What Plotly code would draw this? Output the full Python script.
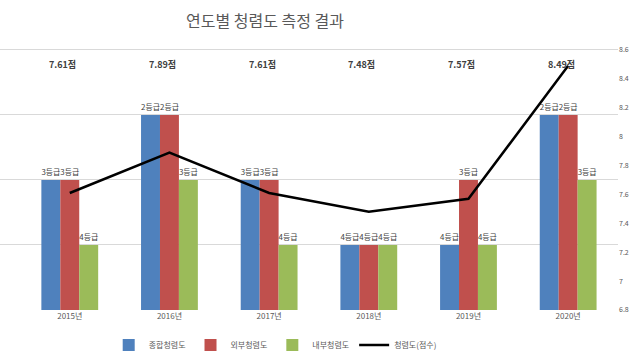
import plotly.graph_objects as go

years = ["2015년", "2016년", "2017년", "2018년", "2019년", "2020년"]
grade_total = [3, 2, 3, 4, 4, 2]      # 종합청렴도
grade_external = [3, 2, 3, 4, 3, 2]   # 외부청렴도
grade_internal = [4, 3, 4, 4, 4, 3]   # 내부청렴도
scores = [7.61, 7.89, 7.61, 7.48, 7.57, 8.49]  # 청렴도(점수)
right_ticks = [6.8, 7, 7.2, 7.4, 7.6, 7.8, 8, 8.2, 8.4, 8.6]

FONT = "Noto Sans CJK KR"

def bar(name, grades, color):
    return go.Bar(
        name=name, x=years, y=[5 - g for g in grades],
        marker=dict(color=color, line=dict(width=0)),
        text=[f"{g}등급" for g in grades], textposition="outside",
        textfont=dict(size=8, color="#404040", family=FONT),
        cliponaxis=False,
    )

fig = go.Figure()
fig.add_trace(bar("종합청렴도", grade_total, "#4F81BD"))
fig.add_trace(bar("외부청렴도", grade_external, "#C0504D"))
fig.add_trace(bar("내부청렴도", grade_internal, "#9BBB59"))
fig.add_trace(go.Scatter(
    name="청렴도(점수)", x=years, y=scores, yaxis="y2", mode="lines",
    line=dict(color="black", width=2.5),
))

for yr, s in zip(years, scores):
    fig.add_annotation(x=yr, y=8.5, yref="y2", text=f"<b>{s:.2f}점</b>",
                       showarrow=False, xshift=-7,
                       font=dict(size=9, color="#404040", family=FONT))

fig.update_layout(
    width=640, height=358,
    margin=dict(l=0, r=22, t=48, b=48, autoexpand=False),
    paper_bgcolor="white", plot_bgcolor="white",
    font=dict(family=FONT, color="#595959"),
    title=dict(text="연도별 청렴도 측정 결과", x=0.414, xanchor="center",
               y=0.94, yanchor="middle",
               font=dict(size=16, color="#595959", family=FONT)),
    barmode="group", bargap=0.43, bargroupgap=0,
    showlegend=True,
    legend=dict(orientation="h", xref="container", yref="container",
                x=0.43, xanchor="center", y=0.036, yanchor="middle",
                font=dict(size=8, color="#595959"), itemwidth=30,
                tracegroupgap=0),
    xaxis=dict(range=[-0.7, 5.5], showgrid=False, showline=False, ticks="",
               tickfont=dict(size=8, color="#595959")),
    yaxis=dict(range=[0, 4.03], tickvals=[0, 1, 2, 3, 4], showticklabels=False,
               showgrid=True, gridcolor="#D9D9D9", gridwidth=1, zeroline=False),
    yaxis2=dict(range=[6.8, 8.6 + 1.8 * 0.03 / 4], overlaying="y", side="right",
                tickvals=right_ticks, ticktext=[str(v) for v in right_ticks],
                showgrid=False, zeroline=False,
                tickfont=dict(size=7, color="#595959")),
)

fig.write_html("out.html", config={"displayModeBar": False},
               post_script="document.body.style.margin='0';")
